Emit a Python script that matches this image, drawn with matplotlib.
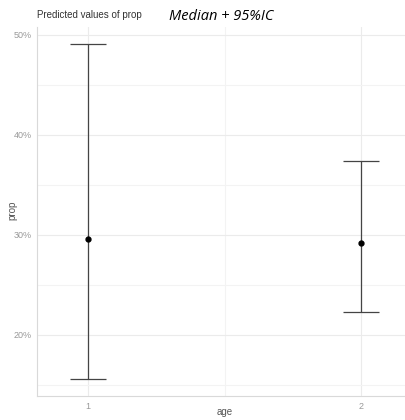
import numpy as np
import matplotlib.pyplot as plt
from matplotlib.ticker import FuncFormatter, MultipleLocator

plt.rcParams['font.family'] = ['Liberation Sans', 'DejaVu Sans']

age = [1, 2]
median = [0.296, 0.292]
lower = [0.156, 0.223]
upper = [0.491, 0.374]

fig = plt.figure(figsize=(4.06, 4.20), dpi=100)
ax = fig.add_axes([37/406, 1 - 396/420, 1 - 37/406, (396 - 27)/420])

err = [np.array(median) - np.array(lower), np.array(upper) - np.array(median)]
ax.errorbar(age, median, yerr=err, fmt='o', color='black', ms=3.5,
            ecolor='#444444', elinewidth=0.9, capsize=13, capthick=0.9)

ax.set_xlim(0.813, 2.165)
ax.set_ylim(0.139, 0.508)
ax.set_xticks([1, 2])
ax.xaxis.set_minor_locator(MultipleLocator(0.5))
ax.yaxis.set_major_locator(MultipleLocator(0.1))
ax.yaxis.set_minor_locator(MultipleLocator(0.05))
ax.yaxis.set_major_formatter(FuncFormatter(lambda v, p: f'{v*100:.0f}%'))

ax.grid(which='major', color='#ebebeb', lw=0.8)
ax.grid(which='minor', color='#f3f3f3', lw=0.8)
ax.set_axisbelow(True)
for s in ['top', 'right']:
    ax.spines[s].set_visible(False)
for s in ['left', 'bottom']:
    ax.spines[s].set_color('#d9d9d9')
    ax.spines[s].set_linewidth(0.8)
ax.tick_params(which='both', length=0, labelsize=6.5, labelcolor='#999999', pad=4)

fig.text(225/406, 1 - 412/420, 'age', fontsize=7, color='#555555',
         ha='center', va='center')
fig.text(12/406, 1 - 210/420, 'prop', fontsize=7, color='#555555',
         ha='center', va='center', rotation=90)

fig.text(37/406, 1 - 18/420, 'Predicted values of prop', fontsize=7, color='#333333')
fig.text(169/406, 1 - 20/420, 'Median + 95%IC', fontsize=10.5, style='italic',
         family='Open Sans', color='black')

fig.savefig('out.png', dpi=100)
